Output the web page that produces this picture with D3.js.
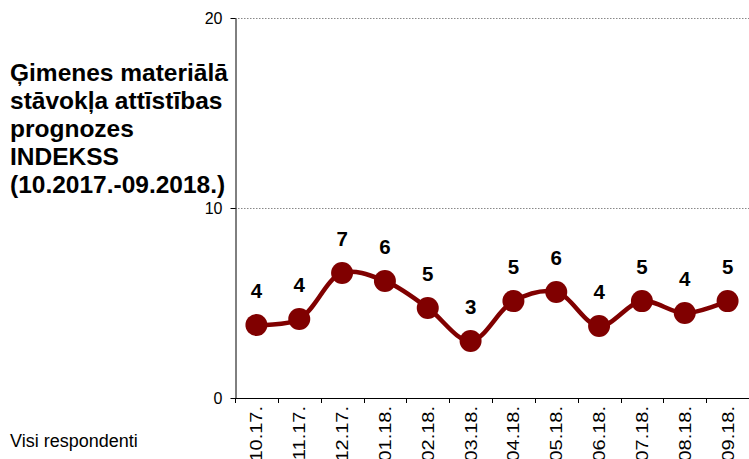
<!DOCTYPE html>
<head>
<style>
    body { margin: 0; background: #fff; font-family: Arial, "Liberation Sans", sans-serif; }
    .grid line { stroke: #888; stroke-dasharray: 1.5 1.5; }
    .axis path, .axis line { stroke: #000; }
</style>
</head>
<body>
<script src="https://d3js.org/d3.v7.min.js"></script>
<script>
var months = ["10.17.", "11.17.", "12.17.", "01.18.", "02.18.", "03.18.", "04.18.", "05.18.", "06.18.", "07.18.", "08.18.", "09.18."];
var values = [3.84, 4.16, 6.58, 6.16, 4.74, 3.0, 5.1, 5.58, 3.79, 5.1, 4.47, 5.1];
var labels = [4, 4, 7, 6, 5, 3, 5, 6, 4, 5, 4, 5];
var yTicks = [0, 10, 20];
var titleLines = ["Ģimenes materiālā", "stāvokļa attīstības", "prognozes", "INDEKSS", "(10.2017.-09.2018.)"];

var width = 749, height = 459;
var plotLeft = 235, plotRight = 749, plotTop = 18, plotBottom = 398;

var svg = d3.select("body").append("svg")
    .attr("width", width)
    .attr("height", height);

var x = d3.scaleBand().domain(months).range([plotLeft, plotRight]);
var y = d3.scaleLinear().domain([0, 20]).range([plotBottom, plotTop]);

// grid lines
svg.append("g").attr("class", "grid")
    .selectAll("line")
    .data(yTicks.filter(function(d) { return d > 0; }))
    .enter().append("line")
    .attr("x1", plotLeft).attr("x2", plotRight)
    .attr("y1", function(d) { return y(d) + 0.5; })
    .attr("y2", function(d) { return y(d) + 0.5; });

// y axis
var yAxis = svg.append("g").attr("class", "axis")
    .attr("transform", "translate(" + (plotLeft + 0.5) + ",0)")
    .call(d3.axisLeft(y).tickValues(yTicks).tickSize(5).tickSizeOuter(0));
yAxis.selectAll("text")
    .attr("font-size", 16).attr("font-family", "Arial, 'Liberation Sans', sans-serif")
    .attr("fill", "#000").attr("x", -13);

// x axis: ticks at band boundaries
var xg = svg.append("g").attr("class", "axis");
xg.append("line")
    .attr("x1", plotLeft).attr("x2", plotRight)
    .attr("y1", plotBottom + 0.5).attr("y2", plotBottom + 0.5);
xg.selectAll(".tk")
    .data(months)
    .enter().append("line")
    .attr("class", "tk")
    .attr("x1", function(d) { return Math.round(x(d)) + 0.5; })
    .attr("x2", function(d) { return Math.round(x(d)) + 0.5; })
    .attr("y1", plotBottom).attr("y2", plotBottom + 5);
// labels are drawn stretched along their length, like the original
xg.selectAll("text")
    .data(months)
    .enter().append("text")
    .attr("transform", function(d) {
        return "translate(" + (x(d) + x.bandwidth() / 2 + 6) + "," + (plotBottom + 8) + ") rotate(-90) scale(1.25,1)";
    })
    .attr("text-anchor", "end")
    .attr("font-size", 16)
    .text(function(d) { return d; });

// line
var cx = function(d, i) { return x(months[i]) + x.bandwidth() / 2; };
var line = d3.line()
    .x(cx)
    .y(function(d) { return y(d); })
    .curve(d3.curveCatmullRom.alpha(0.5));

svg.append("path")
    .datum(values)
    .attr("fill", "none")
    .attr("stroke", "#800000")
    .attr("stroke-width", 4.5)
    .attr("d", line);

svg.append("g").selectAll("circle")
    .data(values)
    .enter().append("circle")
    .attr("cx", cx)
    .attr("cy", function(d) { return y(d); })
    .attr("r", 11)
    .attr("fill", "#800000");

svg.append("g").selectAll("text")
    .data(values)
    .enter().append("text")
    .attr("x", cx)
    .attr("y", function(d) { return y(d) - 27; })
    .attr("text-anchor", "middle")
    .attr("font-size", 20.5)
    .attr("font-weight", "bold")
    .text(function(d, i) { return labels[i]; });

// title
svg.append("g").selectAll("text")
    .data(titleLines)
    .enter().append("text")
    .attr("x", 10)
    .attr("y", function(d, i) { return 81 + i * 28; })
    .attr("font-size", 24.5)
    .attr("font-weight", "bold")
    .text(function(d) { return d; });

svg.append("text")
    .attr("x", 10).attr("y", 447)
    .attr("font-size", 18)
    .text("Visi respondenti");
</script>
</body>
